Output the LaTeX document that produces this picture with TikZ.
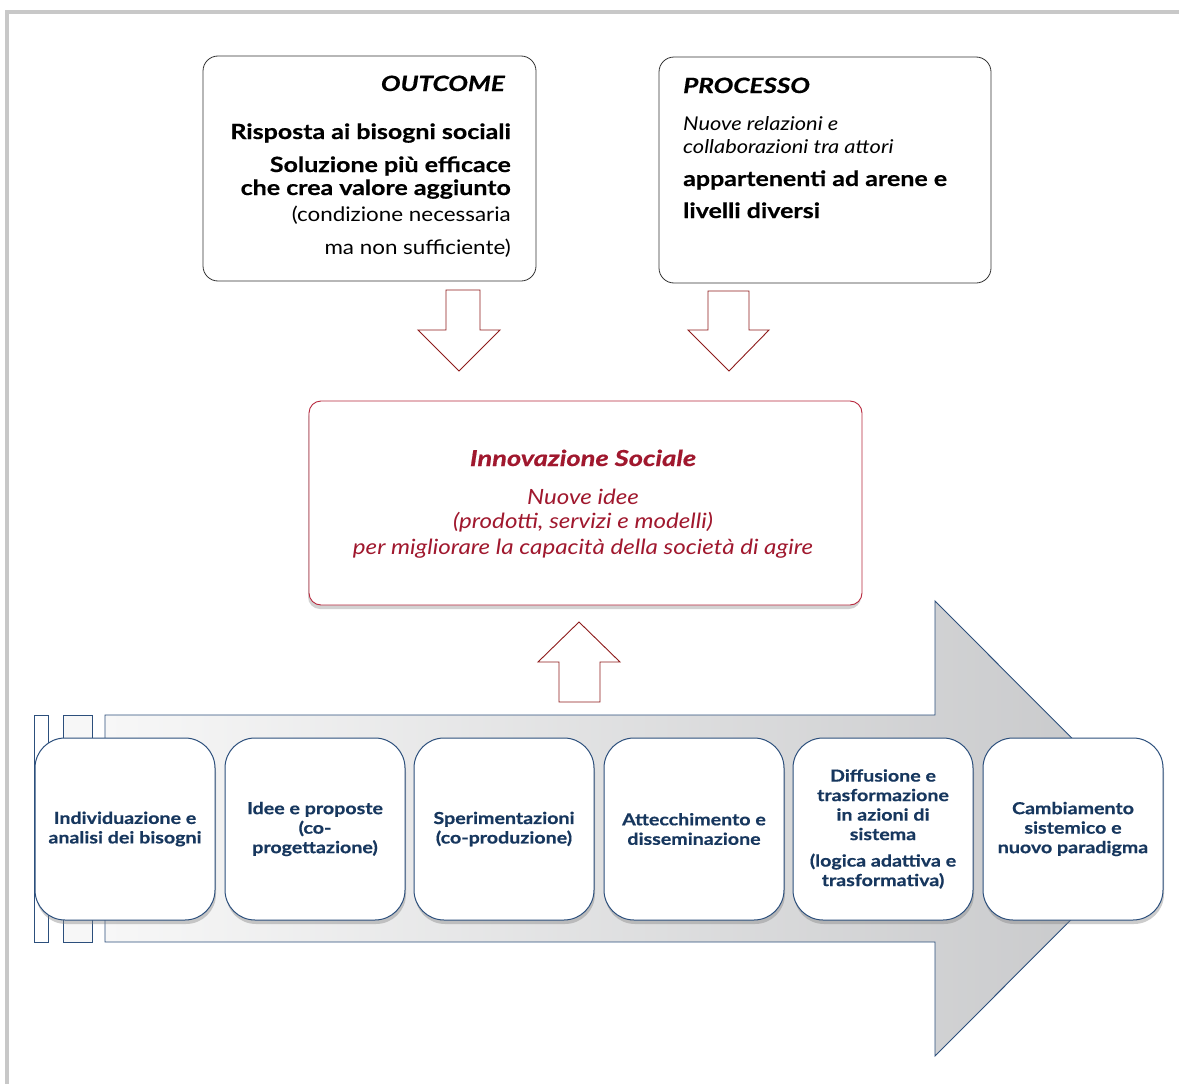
\documentclass[tikz,border=0pt]{standalone}
\usepackage{fontspec}
\setmainfont{Lato}[
  UprightFeatures={FakeStretch=1.12},
  BoldFeatures={FakeStretch=1.19, FakeBold=0.6},
  ItalicFeatures={FakeStretch=1.15},
  BoldItalicFeatures={FakeStretch=1.24, FakeBold=0.6}]
\usetikzlibrary{shadows}
\definecolor{navy}{HTML}{17375E}
\definecolor{bluebd}{HTML}{2C4F7C}
\definecolor{crim}{HTML}{A0182E}
\definecolor{crimbd}{HTML}{B8283E}
\definecolor{arrred}{HTML}{8E1B1B}
\definecolor{framegray}{HTML}{C8C8C8}
\definecolor{gradL}{HTML}{F7F7F7}
\definecolor{gradR}{HTML}{C6C7C9}
\tikzset{
  topbox/.style={draw=black!80, line width=0.8pt, rounded corners=15pt, fill=white, inner sep=0pt},
  innobox/.style={draw=crimbd, line width=0.9pt, rounded corners=12pt, fill=white, inner sep=0pt,
    drop shadow={opacity=0.35, shadow xshift=-1pt, shadow yshift=-4pt}},
  stagebox/.style={draw=bluebd, line width=1pt, rounded corners=30pt, fill=white, inner sep=0pt,
    minimum width=180pt, minimum height=182pt, align=center, text=navy, font=\fontsize{16.5}{19.5}\selectfont\bfseries,
    drop shadow={opacity=0.4, shadow xshift=1pt, shadow yshift=-4pt}},
  blockarrow/.style={draw=arrred, line width=0.9pt, fill=white},
  bigtxt/.style={inner sep=0pt, font=\fontsize{21}{25}\selectfont\bfseries},
  regtxt/.style={inner sep=0pt, font=\fontsize{20}{24}\selectfont},
  ittxt/.style={inner sep=0pt, font=\fontsize{19}{23}\selectfont\itshape},
  redtxt/.style={inner sep=0pt, text=crim, font=\fontsize{21}{25}\selectfont\itshape},
}
\begin{document}
\begin{tikzpicture}[x=1pt,y=-1pt]
\useasboundingbox (0,0) rectangle (1179,1084);
\fill[white] (0,0) rectangle (1179,1084);
% frame
\draw[framegray, line width=4pt] (7,1084) -- (7,12) -- (1179,12);

% top boxes
\node[topbox, minimum width=333pt, minimum height=225pt] (outbox) at (369.5,168.5) {};
\node[topbox, minimum width=332pt, minimum height=226pt] (probox) at (825,170) {};

% OUTCOME text
\node[bigtxt, font=\fontsize{21}{25}\selectfont\bfseries\itshape, anchor=base east] (outt) at (505,91) {OUTCOME};
\node[bigtxt, anchor=base east] (out1) at (511,139) {Risposta ai bisogni sociali};
\node[bigtxt, anchor=base east] (out2) at (511,172) {Soluzione più efficace};
\node[bigtxt, anchor=base east] (out3) at (511,195) {che crea valore aggiunto};
\node[regtxt, anchor=base east] (out4) at (511,221) {(condizione necessaria};
\node[regtxt, anchor=base east] (out5) at (511,254) {ma non sufficiente)};

% PROCESSO text
\node[bigtxt, font=\fontsize{21}{25}\selectfont\bfseries\itshape, anchor=base west] (prot) at (683,93) {PROCESSO};
\node[ittxt, anchor=base west] (pro1) at (683,130) {Nuove relazioni e};
\node[ittxt, anchor=base west] (pro2) at (683,153) {collaborazioni tra attori};
\node[bigtxt, anchor=base west] (pro3) at (683,186) {appartenenti ad arene e};
\node[bigtxt, anchor=base west] (pro4) at (683,218) {livelli diversi};

% down arrows
\draw[blockarrow] (446,290) -- (480,290) -- (480,330) -- (500,330) -- (459,371) -- (418,330) -- (446,330) -- cycle;
\draw[blockarrow] (708,291) -- (749,291) -- (749,330) -- (769,330) -- (729,371) -- (688,330) -- (708,330) -- cycle;

% innovation box
\node[innobox, minimum width=553pt, minimum height=204pt] (inno) at (585.5,503) {};
\node[redtxt, font=\fontsize{22}{26}\selectfont\bfseries\itshape, anchor=base] (inn0) at (583,466) {Innovazione Sociale};
\node[redtxt, anchor=base] (inn1) at (583,504) {Nuove idee};
\node[redtxt, anchor=base] (inn2) at (583,528) {(prodotti, servizi e modelli)};
\node[redtxt, anchor=base] (inn3) at (583,554) {per migliorare la capacità della società di agire};

% up arrow
\draw[blockarrow] (559,702) -- (600,702) -- (600,662) -- (620,662) -- (579,622) -- (538,662) -- (559,662) -- cycle;

% big process arrow
\shade[left color=gradL, right color=gradR, draw=bluebd, line width=0.9pt]
  (105,715) -- (935,715) -- (935,601) -- (1162,828.5) -- (935,1056) -- (935,942) -- (105,942) -- cycle;
\draw[bluebd, line width=0.9pt, fill=white] (34,715) rectangle (48,942);
\draw[bluebd, line width=0.9pt, fill=white!97!black] (63,715) rectangle (92,942);

% stages
\node[stagebox] (s1) at (125,829) {Individuazione e\\analisi dei bisogni};
\node[stagebox] (s2) at (315,829) {Idee e proposte\\(co-\\progettazione)};
\node[stagebox] (s3) at (504,829) {Sperimentazioni\\(co-produzione)};
\node[stagebox] (s4) at (694,829) {Attecchimento e\\disseminazione};
\node[stagebox] (s5) at (883,829) {Diffusione e\\trasformazione\\in azioni di\\sistema\\[7pt](logica adattiva e\\trasformativa)};
\node[stagebox] (s6) at (1073,829) {Cambiamento\\sistemico e\\nuovo paradigma};
\end{tikzpicture}
\end{document}
